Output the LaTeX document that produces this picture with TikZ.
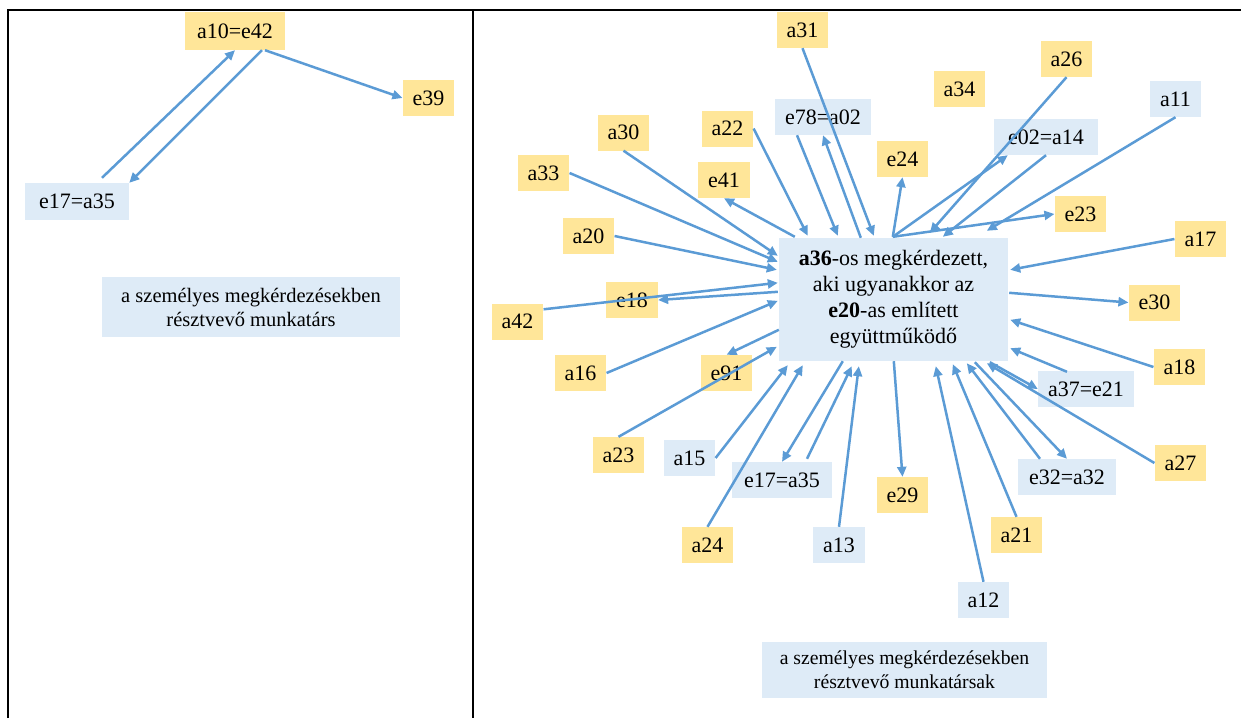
\documentclass[tikz,border=0pt]{standalone}
\usepackage{fontspec}
\setmainfont{Liberation Serif}
\usetikzlibrary{arrows.meta,calc}
\definecolor{ylw}{HTML}{FFE699}
\definecolor{lbl}{HTML}{DEEBF7}
\definecolor{arw}{HTML}{5B9BD5}
\begin{document}
\begin{tikzpicture}[x=1pt,y=-1pt,
  lab/.style={font=\fontsize{22}{26}\selectfont, inner xsep=10pt, inner ysep=0pt, minimum height=36pt, anchor=center},
  yb/.style={lab, fill=ylw},
  bb/.style={lab, fill=lbl},
  capbox/.style={fill=lbl, align=center, inner sep=0pt},
  arr/.style={draw=arw, line width=2.5pt, -{Triangle[length=10pt,width=9pt]}},
  rule/.style={line width=2.2pt, black}]
\useasboundingbox (0,0) rectangle (1241,718);
% table rules
\draw[rule] (8,718) -- (8,10) -- (1241,10);
\draw[rule] (473,10) -- (473,718);

% ---------- left panel ----------
\node[yb, minimum width=100pt, minimum height=38pt] (a10) at (235,31) {a10=e42};
\node[yb] (e39) at (428.5,98) {e39};
\node[bb, minimum width=104pt, minimum height=37pt] (e17L) at (77,201.5) {e17=a35};
\node[capbox, minimum width=298pt, minimum height=60pt, font=\fontsize{20.5}{24}\selectfont] (capL) at (251,307) {a személyes megkérdezésekben\\résztvevő munkatárs};

\draw[arr] ($(e17L.north)+(25,-5)$) -- (a10.south);
\draw[arr] ($(a10.south)+(27,0)$) -- (e17L.north east);
\draw[arr] ($(a10.south)+(30,0)$) -- (e39.west);

% ---------- right panel ----------
\node[fill=lbl, minimum width=229pt, minimum height=123pt, inner sep=0pt, align=center, font=\fontsize{22}{26}\selectfont] (c) at (893.5,299.5)
  {\textbf{a36}-os megkérdezett,\\aki ugyanakkor az\\\textbf{e20}-as említett\\együttműködő};

\node[yb] (a31) at (802.5,30) {a31};
\node[yb] (a26) at (1066.5,59) {a26};
\node[yb] (a34) at (959.5,89) {a34};
\node[bb] (a11) at (1175.5,99) {a11};
\node[bb, minimum width=96pt] (e78) at (823,117) {e78=a02};
\node[yb] (a22) at (727.5,128.5) {a22};
\node[yb] (a30) at (623.5,132.5) {a30};
\node[bb, minimum width=104pt] (e02) at (1046,137) {e02=a14};
\node[yb] (e24) at (902.5,159) {e24};
\node[yb] (a33) at (543.5,173) {a33};
\node[yb] (e41) at (724,180) {e41};
\node[yb] (e23) at (1080.5,214) {e23};
\node[yb] (a20) at (588.5,236) {a20};
\node[yb] (a17) at (1200.5,239) {a17};
\node[yb] (e18) at (632,300) {e18};
\node[yb] (a42) at (517.5,321.5) {a42};
\node[yb] (e30) at (1154.5,302.5) {e30};
\node[yb] (a16) at (580.5,373) {a16};
\node[yb] (e91) at (726.5,373) {e91};
\node[yb] (a18) at (1179.5,367) {a18};
\node[bb, minimum width=96pt] (a37) at (1086,389) {a37=e21};
\node[yb] (a23) at (618.5,455) {a23};
\node[bb] (a15) at (689.5,458) {a15};
\node[yb] (a27) at (1180.5,463) {a27};
\node[bb, minimum width=98pt] (e32) at (1067,477) {e32=a32};
\node[bb, minimum width=100pt] (e17R) at (782,480) {e17=a35};
\node[yb] (e29) at (902.5,495) {e29};
\node[yb] (a21) at (1016.5,535) {a21};
\node[yb] (a24) at (707.5,545) {a24};
\node[bb] (a13) at (839,545) {a13};
\node[bb] (a12) at (983.5,600) {a12};
\node[capbox, minimum width=285pt, minimum height=56pt, font=\fontsize{19.7}{24}\selectfont] (capR) at (904.5,670) {a személyes megkérdezésekben\\résztvevő munkatársak};

% top side
\draw[arr] (a31.south) -- ($(c.north west)+(95,-2)$);
\draw[arr] ($(e78.south)+(-26,0)$) -- ($(c.north west)+(59,-2)$);
\draw[arr] ($(c.north west)+(82,0)$) -- (e78.south);
\draw[arr] (a22.east) -- ($(c.north west)+(29,-2)$);
\draw[arr] ($(c.north west)+(16,-1)$) -- (e41.south);
% left side
\draw[arr] (a30.south) -- ($(c.north west)+(-1,18)$);
\draw[arr] (a33.east) -- ($(c.north west)+(-1,24)$);
\draw[arr] (a20.east) -- ($(c.north west)+(-2,32)$);
\draw[arr] ($(a42.north east)+(0,6)$) -- ($(c.north west)+(-1,45)$);
\draw[arr] ($(c.north west)+(-1,54)$) -- (e18.east);
\draw[arr] (a16.east) -- ($(c.north west)+(-1,63)$);
\draw[arr] ($(c.north west)+(0,92)$) -- (e91.north);
\draw[arr] (a23.north) -- ($(c.north west)+(-2,109)$);
% bottom side
\draw[arr] (a15.east) -- ($(c.south west)+(9,4)$);
\draw[arr] (a24.north) -- ($(c.south west)+(24,4)$);
\draw[arr] ($(c.south west)+(64,0)$) -- (e17R.north);
\draw[arr] ($(e17R.north)+(25,-3)$) -- ($(c.south west)+(73,5)$);
\draw[arr] (a13.north) -- ($(c.south west)+(80,5)$);
\draw[arr] ($(c.south west)+(115,0)$) -- (e29.north);
\draw[arr] (a12.north) -- ($(c.south west)+(157,5)$);
\draw[arr] (a21.north) -- ($(c.south west)+(174,3)$);
\draw[arr] ($(e32.north)+(-27,0)$) -- ($(c.south west)+(188,2)$);
\draw[arr] ($(c.south west)+(196,1)$) -- (e32.north);
\draw[arr] (a27.west) -- ($(c.south west)+(208,2)$);
\draw[arr] ($(c.south west)+(211,1)$) -- (a37.west);
\draw[arr] ($(a37.north)+(-19,1)$) -- ($(c.south east)+(2,-13)$);
% right side
\draw[arr] (a18.west) -- ($(c.north east)+(2,82)$);
\draw[arr] ($(c.north east)+(1,55)$) -- (e30.west);
\draw[arr] (a17.west) -- ($(c.north east)+(2,32)$);
% top right
\draw[arr] ($(c.north west)+(114,-1)$) -- (e24.south);
\draw[arr] ($(c.north west)+(114,-1)$) -- ($(e02.south west)+(14,0)$);
\draw[arr] (a26.south) -- ($(c.north west)+(151,-5)$);
\draw[arr] (e02.south) -- ($(c.north west)+(164,-1)$);
\draw[arr] ($(c.north west)+(114,-1)$) -- (e23.west);
\draw[arr] (a11.south) -- ($(c.north west)+(208,-7)$);
\end{tikzpicture}
\end{document}
